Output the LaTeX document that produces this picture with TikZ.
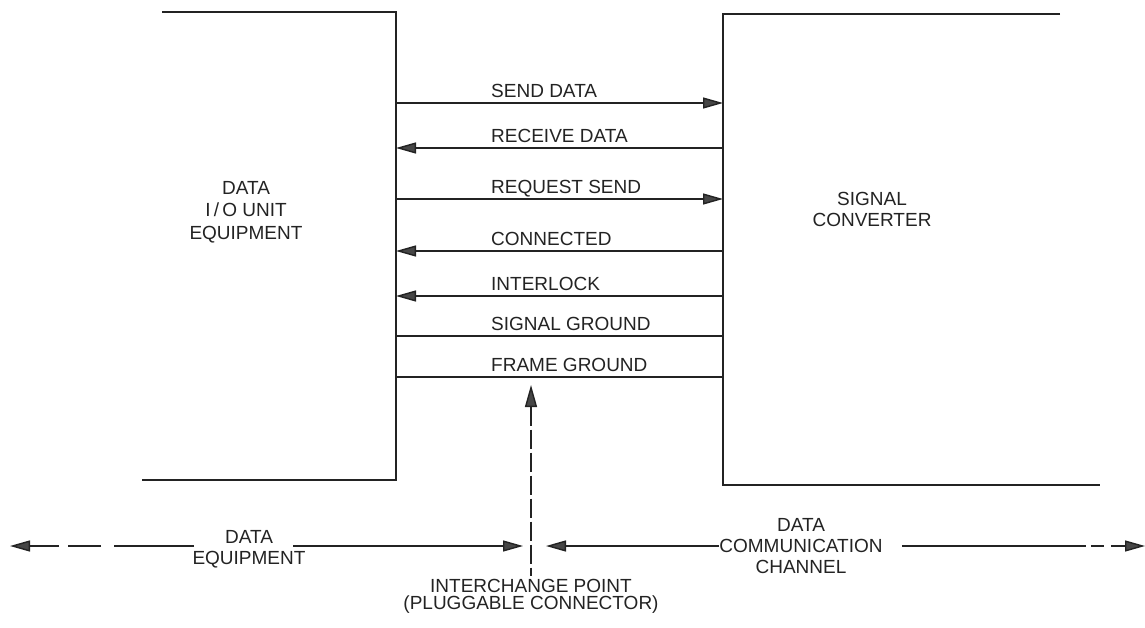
\documentclass[tikz,border=0pt]{standalone}
\usepackage{fontspec}
\setmainfont{Liberation Sans}
\usetikzlibrary{positioning,arrows.meta}
\definecolor{Ink}{RGB}{35,35,35}
\definecolor{TipGray}{RGB}{70,70,70}
\tikzset{
  unitedge/.style={draw=Ink,line width=2pt},
  sig/.style={draw=Ink,line width=1.4pt},
  arr/.style={-{Triangle[length=20pt,width=11pt,fill=TipGray]}},
  lbl/.style={inner sep=0pt,anchor=base west,text=Ink,font=\fontsize{19}{21}\selectfont},
  blocktext/.style={inner sep=0pt,align=center,text=Ink,font=\fontsize{19}{21}\selectfont},
}

\begin{document}
\begin{tikzpicture}[x=1pt,y=-1pt]
  \useasboundingbox (0,0) rectangle (1145,627);

  % the two units, each open on its outer side
  \draw[unitedge] (162,12) -| (396,480) -- (142,480);
  \draw[unitedge] (1060,14) -| (723,485) -- (1100,485);
  \node[blocktext,font=\fontsize{19}{22.5}\selectfont] (dio) at (246,212) {DATA\\I\,/\,O UNIT\\EQUIPMENT};
  \node[blocktext] (sc) at (872,209) {SIGNAL\\CONVERTER};

  % interchange circuits
  \foreach \n/\y in {1/103,2/148,3/199,4/251,5/296,6/336,7/377} {
    \coordinate (a\n) at (396,\y);
    \coordinate (b\n) at (723,\y);
  }
  \foreach \n in {1,3} \draw[sig,arr] (a\n) -- (b\n);
  \foreach \n in {2,4,5} \draw[sig,arr] (b\n) -- (a\n);
  \foreach \n in {6,7} \draw[sig] (a\n) -- (b\n);

  \foreach \n/\y/\txt in {1/103/SEND DATA,2/148/RECEIVE DATA,3/199/REQUEST SEND,
      4/251/CONNECTED,5/296/INTERLOCK,6/336/SIGNAL GROUND,7/377/FRAME GROUND}
    \node[lbl] (t\n) at (491,\y-6) {\txt};

  % interchange point
  \coordinate (ip) at (531,385);
  \coordinate (ipend) at (531,576);
  \draw[sig,dash pattern=on 19pt off 4pt,{Triangle[length=22pt,width=12pt,fill=TipGray]}-] (ip) -- (ipend);
  \node[blocktext,font=\fontsize{19}{17}\selectfont,below=3pt of ipend] (ipl) {INTERCHANGE POINT\\(PLUGGABLE CONNECTOR)};

  % extent of each side
  \coordinate (le) at (10,546);
  \coordinate (lm) at (523,546);
  \coordinate (rm) at (546,546);
  \coordinate (re) at (1145,546);
  \coordinate (deqa) at (194,546);
  \coordinate (deqb) at (293,546);
  \node[blocktext] (deq) at (249,549) {DATA\\EQUIPMENT};
  \node[blocktext] (dcc) at (801,546) {DATA\\COMMUNICATION\\CHANNEL};
  \draw[sig,arr,dash pattern=on 80pt off 13pt on 33pt off 9pt on 60pt] (deqa) -- (le);
  \draw[sig,arr] (deqb) -- (lm);
  \draw[sig,arr] (dcc.west) -- (rm);
  \draw[sig,arr,dash pattern=on 184pt off 5pt on 13pt off 7pt on 60pt] ([xshift=19pt]dcc.east) -- (re);
\end{tikzpicture}
\end{document}
